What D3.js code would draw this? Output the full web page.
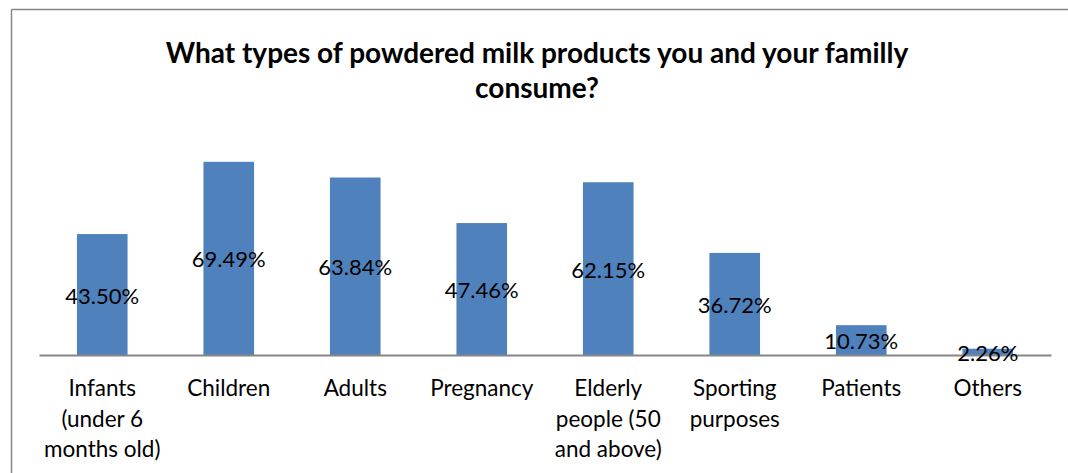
<!DOCTYPE html>
<html>
<head>
<meta charset="utf-8">
<script src="https://cdn.jsdelivr.net/npm/d3@7"></script>
<style>
  html, body { margin: 0; padding: 0; background: #fff; }
  svg { display: block; }
</style>
</head>
<body>
<svg id="chart" width="1068" height="473"></svg>
<script>
// Survey answers: share of respondents per product type
const categories = [
  ["Infants", "(under 6", "months old)"],
  ["Children"],
  ["Adults"],
  ["Pregnancy"],
  ["Elderly", "people (50", "and above)"],
  ["Sporting", "purposes"],
  ["Patients"],
  ["Others"]
];
const values = [43.50, 69.49, 63.84, 47.46, 62.15, 36.72, 10.73, 2.26];
const titleLines = [
  "What types of powdered milk products you and your familly",
  "consume?"
];

const svg = d3.select("#chart");
const W = 1068, H = 473;
const font = "Lato, 'Open Sans', sans-serif";

// outer frame (only left and top edges fall inside the view)
svg.append("line").attr("x1", 11.5).attr("x2", 11.5).attr("y1", 9.5).attr("y2", H)
  .attr("stroke", "#878787").attr("stroke-width", 1.5);
svg.append("line").attr("x1", 11.5).attr("x2", W).attr("y1", 9.5).attr("y2", 9.5)
  .attr("stroke", "#878787").attr("stroke-width", 1.5);

const plot = { left: 39, right: 1051, bottom: 355 };

const x = d3.scaleBand()
  .domain(d3.range(categories.length))
  .range([plot.left, plot.right])
  .padding(0);

const y = d3.scaleLinear()
  .domain([0, 80])
  .range([plot.bottom, plot.bottom - 222.4]);

const barW = x.bandwidth() * 0.4;

// title
svg.append("g").selectAll("text")
  .data(titleLines)
  .join("text")
  .attr("x", 537)
  .attr("y", (d, i) => 63 + i * 35)
  .attr("text-anchor", "middle")
  .attr("font-family", font)
  .attr("font-weight", "bold")
  .attr("font-size", 28)
  .attr("fill", "#000")
  .text(d => d);

// bars
svg.append("g").selectAll("rect")
  .data(values)
  .join("rect")
  .attr("x", (d, i) => x(i) + (x.bandwidth() - barW) / 2)
  .attr("y", d => y(d))
  .attr("width", barW)
  .attr("height", d => y(0) - y(d))
  .attr("fill", "#4F81BD");

// category axis
const axis = d3.axisBottom(x).tickSize(0).tickFormat("");
const gAxis = svg.append("g")
  .attr("transform", `translate(0,${plot.bottom})`)
  .call(axis);
gAxis.select(".domain").attr("stroke", "#868686").attr("stroke-width", 2);

// multi-line category labels
const labelG = svg.append("g");
categories.forEach((lines, i) => {
  const t = labelG.append("text")
    .attr("x", x(i) + x.bandwidth() / 2)
    .attr("y", 396)
    .attr("text-anchor", "middle")
    .attr("font-family", font)
    .attr("font-size", 22.5)
    .attr("fill", "#000");
  lines.forEach((ln, j) => {
    t.append("tspan")
      .attr("x", x(i) + x.bandwidth() / 2)
      .attr("y", 396 + j * 30.5)
      .text(ln);
  });
});

// value labels, centred in each bar
svg.append("g").selectAll("text")
  .data(values)
  .join("text")
  .attr("x", (d, i) => x(i) + x.bandwidth() / 2)
  .attr("y", d => (y(d) + y(0)) / 2 + 9)
  .attr("text-anchor", "middle")
  .attr("font-family", font)
  .attr("font-size", 22)
  .attr("fill", "#000")
  .text(d => d.toFixed(2) + "%");
</script>
</body>
</html>
